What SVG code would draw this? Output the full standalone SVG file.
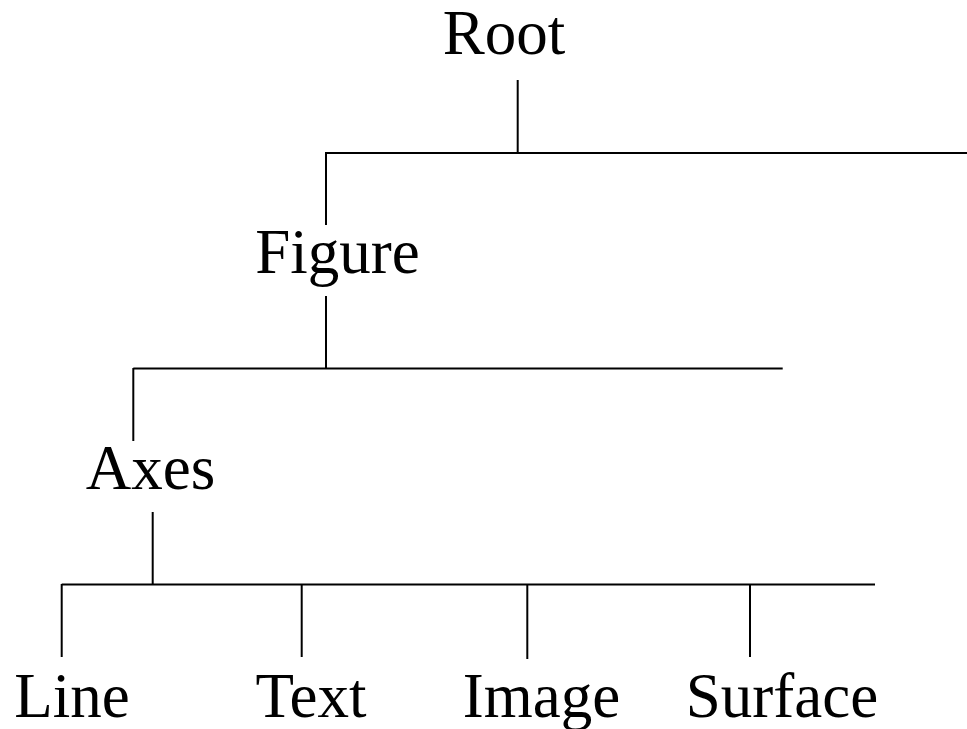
<svg xmlns="http://www.w3.org/2000/svg" width="967" height="729" viewBox="0 0 967 729">
<style>
  .lbl { font-family: "Liberation Serif", "Times New Roman", serif; font-size: 63px; fill: #000; text-anchor: middle; }
  .conn { stroke: #000; stroke-width: 2; fill: none; }
</style>
<rect width="967" height="729" fill="#fff"/>
<g id="connectors">
  <line class="conn" x1="517.7" y1="80" x2="517.7" y2="153"/>
  <line class="conn" x1="326" y1="153" x2="967" y2="153"/>
  <line class="conn" x1="326" y1="152" x2="326" y2="225"/>
  <line class="conn" x1="326" y1="296" x2="326" y2="368.5"/>
  <line class="conn" x1="133.3" y1="368.5" x2="782.7" y2="368.5"/>
  <line class="conn" x1="133.3" y1="368" x2="133.3" y2="441"/>
  <line class="conn" x1="152.7" y1="512" x2="152.7" y2="584.5"/>
  <line class="conn" x1="61.7" y1="584.5" x2="875" y2="584.5"/>
  <line class="conn" x1="61.7" y1="584" x2="61.7" y2="657"/>
  <line class="conn" x1="301.7" y1="584" x2="301.7" y2="657"/>
  <line class="conn" x1="527.3" y1="584" x2="527.3" y2="659"/>
  <line class="conn" x1="750" y1="584" x2="750" y2="657"/>
</g>
<g id="node-root"><text class="lbl" x="504" y="54">Root</text></g>
<g id="node-figure"><text class="lbl" x="337.5" y="273">Figure</text></g>
<g id="node-axes"><text class="lbl" x="150.5" y="489">Axes</text></g>
<g id="node-line"><text class="lbl" x="72" y="717">Line</text></g>
<g id="node-text"><text class="lbl" x="311" y="717">Text</text></g>
<g id="node-image"><text class="lbl" x="541.5" y="717">Image</text></g>
<g id="node-surface"><text class="lbl" x="782" y="717">Surface</text></g>
</svg>
